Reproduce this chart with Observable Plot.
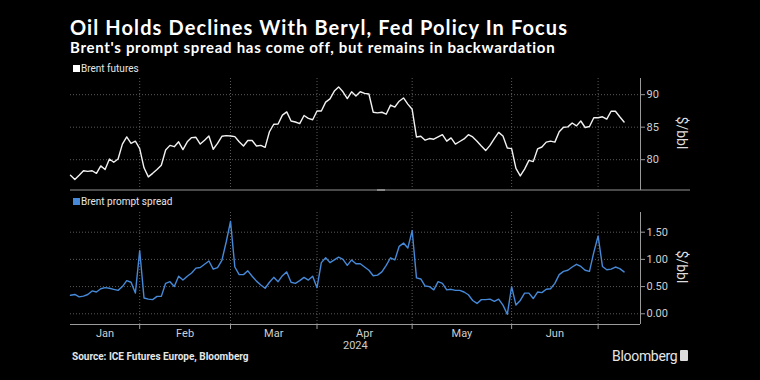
<!DOCTYPE html>
<html><head><meta charset="utf-8">
<script src="https://cdn.jsdelivr.net/npm/d3@7"></script>
<script src="https://cdn.jsdelivr.net/npm/@observablehq/plot@0.6"></script>
<style>
html,body{margin:0;padding:0;background:#000;}
#root{position:relative;width:760px;height:380px;background:#000;overflow:hidden;font-family:Lato,"Liberation Sans",sans-serif;color:#fff;}
.abs{position:absolute;white-space:nowrap;line-height:1;}
#title{left:70px;top:17px;font-size:20px;font-weight:700;letter-spacing:1.1px;}
#subtitle{left:70px;top:40px;font-size:15px;font-weight:700;letter-spacing:0.7px;}
.leg{font-size:10px;color:#e6e6e6;font-family:Roboto,"Liberation Sans",sans-serif;}
.sw{position:absolute;width:7px;height:7px;}
.unit{font-size:14px;color:#ddd;font-family:Roboto,"Liberation Sans",sans-serif;transform:rotate(90deg);transform-origin:center center;}
#source{left:72px;top:352px;font-size:10px;font-weight:700;color:#e6e6e6;font-family:Roboto,"Liberation Sans",sans-serif;}
#bbg{left:612px;top:349px;font-size:14px;color:#e6e6e6;font-family:Roboto,"Liberation Sans",sans-serif;letter-spacing:-0.3px;}
#year{top:340px;font-size:11px;color:#ccc;font-family:Roboto,"Liberation Sans",sans-serif;}
.plotbox{position:absolute;left:0;}
</style></head>
<body>
<div id="root">
  <div id="title" class="abs">Oil Holds Declines With Beryl, Fed Policy In Focus</div>
  <div id="subtitle" class="abs">Brent's prompt spread has come off, but remains in backwardation</div>
  <div class="sw" style="left:73px;top:65px;background:#fff;"></div>
  <div class="abs leg" style="left:81px;top:64px;">Brent futures</div>
  <div class="sw" style="left:73px;top:198px;background:#4589d8;"></div>
  <div class="abs leg" style="left:81px;top:197px;">Brent prompt spread</div>
  <div class="abs" style="left:70px;top:189px;width:620px;height:2px;background:#4a4a4a;"></div>
  <div class="abs" style="left:377px;top:189px;width:8px;height:2px;background:#888;"></div>
  <div id="top" class="plotbox" style="top:70px;"></div>
  <div id="bottom" class="plotbox" style="top:204px;"></div>
  <div class="abs unit" style="left:666px;top:126px;">$/bbl</div>
  <div class="abs unit" style="left:666px;top:260px;">$/bbl</div>
  <div id="year" class="abs" style="left:343px;">2024</div>
  <div id="source" class="abs">Source: ICE Futures Europe, Bloomberg</div>
  <div id="bbg" class="abs">Bloomberg</div>
  <div class="abs" style="left:680px;top:350px;width:8px;height:11px;background:#ddd;border-radius:1px;"></div>
</div>
<script>
// Month labels and the trading-day index where each following month begins
const months = ["Jan", "Feb", "Mar", "Apr", "May", "Jun"];
const monthBoundaries = [16, 37, 57, 79, 102, 122];
const xMax = 131.8;

// Brent futures, $/bbl (one value per trading day, Jan 9 .. Jul 9 2024)
const brentFutures = [
  77.6, 76.95, 77.6, 78.3, 78.2, 78.3, 77.9, 79.05, 78.5, 80.1,
  79.6, 80.1, 82.4, 83.5, 82.5, 82.85, 81.7, 78.75, 77.35, 77.9,
  78.5, 79.15, 81.5, 82.2, 82.0, 82.75, 81.55, 82.75, 83.4, 83.45,
  82.4, 83.0, 83.65, 81.6, 82.5, 83.6, 83.7, 83.65, 83.55, 82.75,
  82.1, 82.95, 82.95, 82.1, 82.2, 81.9, 84.3, 85.45, 85.5, 86.85,
  87.35, 85.95, 85.8, 85.55, 86.8, 86.35, 86.15, 87.5, 87.5, 88.85,
  89.35, 90.55, 91.2, 90.45, 89.4, 90.45, 89.8, 90.45, 90.2, 90.1,
  87.3, 87.2, 87.3, 87.0, 88.4, 88.1, 89.0, 89.5, 88.55, 87.75,
  83.5, 83.6, 83.0, 83.25, 83.15, 83.5, 83.85, 82.85, 83.35, 82.4,
  82.8, 83.2, 83.85, 83.5, 82.85, 82.1, 81.4, 82.2, 83.25, 84.2,
  83.65, 81.8, 81.7, 78.65, 77.5, 78.55, 79.9, 79.7, 81.65, 81.95,
  82.7, 82.85, 82.7, 84.3, 85.0, 85.05, 85.65, 85.2, 85.95, 84.95,
  85.1, 86.45, 86.45, 86.6, 86.25, 87.45, 87.45, 86.6, 85.8
];

// Brent prompt spread, $/bbl
const promptSpread = [
  0.34, 0.355, 0.31, 0.325, 0.355, 0.42, 0.40, 0.46, 0.48, 0.47,
  0.45, 0.43, 0.50, 0.61, 0.58, 0.38, 1.16, 0.29, 0.27, 0.26,
  0.32, 0.32, 0.56, 0.59, 0.50, 0.69, 0.62, 0.69, 0.75, 0.84,
  0.85, 0.91, 0.97, 0.82, 0.85, 0.98, 1.32, 1.70, 0.86, 0.72,
  0.72, 0.79, 0.69, 0.60, 0.53, 0.47, 0.58, 0.67, 0.59, 0.70,
  0.77, 0.58, 0.56, 0.61, 0.67, 0.62, 0.69, 0.48, 0.94, 1.03,
  0.94, 0.99, 1.04, 1.00, 0.89, 0.99, 0.92, 0.92, 0.86, 0.80,
  0.70, 0.71, 0.77, 0.89, 1.03, 0.99, 1.24, 1.30, 1.21, 1.53,
  0.66, 0.64, 0.51, 0.50, 0.44, 0.59, 0.56, 0.44, 0.45, 0.43,
  0.43, 0.40, 0.35, 0.245, 0.19, 0.26, 0.26, 0.27, 0.23, 0.27,
  0.16, -0.01, 0.50, 0.16, 0.245, 0.38, 0.38, 0.28, 0.40, 0.39,
  0.45, 0.46, 0.56, 0.72, 0.78, 0.80, 0.86, 0.91, 0.87, 0.80,
  0.78, 1.13, 1.43, 0.87, 0.81, 0.82, 0.86, 0.83, 0.77
];

const topTicks = [80, 85, 90];
const bottomTicks = [0, 0.5, 1.0, 1.5];

// month label positions: centred between boundaries
const edges = [0, ...monthBoundaries];
const labelPos = months.map((m, i) => (edges[i] + edges[i + 1]) / 2);
const labelMap = new Map(labelPos.map((p, i) => [p, months[i]]));

const baseStyle = {background: "transparent", color: "#cfcfcf", fontSize: "11px", fontFamily: "Roboto, 'Liberation Sans', sans-serif", overflow: "visible"};
const gridOpts = {stroke: "#5a5a5a", strokeOpacity: 1, strokeDasharray: "1,2", strokeWidth: 1};

const topChart = Plot.plot({
  width: 760, height: 124, marginTop: 8, marginBottom: 4, marginLeft: 70, marginRight: 120,
  style: baseStyle,
  x: {domain: [0, xMax], axis: null},
  y: {domain: [75.26, 92.49], axis: null},
  marks: [
    Plot.gridX(monthBoundaries, gridOpts),
    Plot.gridY(topTicks, gridOpts),
    Plot.ruleX([xMax], {stroke: "#9a9a9a"}),
    Plot.axisY(topTicks, {anchor: "right", tickSize: 4, tickPadding: 2, label: null, stroke: "#9a9a9a", fill: "#cfcfcf"}),
    Plot.lineY(brentFutures, {x: (d, i) => i, y: d => d, stroke: "#f2f2f2", strokeWidth: 1.4})
  ]
});
document.getElementById("top").appendChild(topChart);

const bottomChart = Plot.plot({
  width: 760, height: 150, marginTop: 8, marginBottom: 30, marginLeft: 70, marginRight: 120,
  style: baseStyle,
  x: {domain: [0, xMax], axis: null},
  y: {domain: [-0.197, 1.862], axis: null},
  marks: [
    Plot.gridX(monthBoundaries, gridOpts),
    Plot.gridY(bottomTicks, gridOpts),
    Plot.ruleX([xMax], {stroke: "#9a9a9a"}),
    Plot.ruleY([-0.197], {stroke: "#9a9a9a"}),
    Plot.axisY(bottomTicks, {anchor: "right", tickSize: 4, tickPadding: 2, label: null, stroke: "#9a9a9a", fill: "#cfcfcf", tickFormat: d3.format(".2f")}),
    Plot.axisX(monthBoundaries, {anchor: "bottom", tickSize: 5, tickFormat: () => "", label: null, stroke: "#9a9a9a"}),
    Plot.axisX(labelPos, {anchor: "bottom", tickSize: 0, tickPadding: 5, tickFormat: d => labelMap.get(d), label: null, fill: "#cfcfcf"}),
    Plot.lineY(promptSpread, {x: (d, i) => i, y: d => d, stroke: "#4589d8", strokeWidth: 1.4})
  ]
});
document.getElementById("bottom").appendChild(bottomChart);
</script>
</body></html>
